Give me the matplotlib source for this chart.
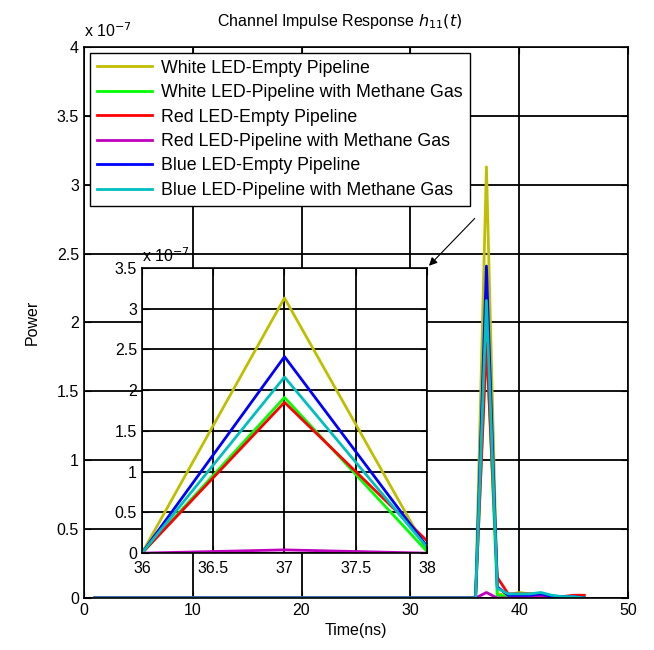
import numpy as np
import matplotlib.pyplot as plt

plt.rcParams['font.family'] = ['Liberation Sans', 'DejaVu Sans']

# time axis (ns) and received power (units of 1e-7)
t = np.arange(1, 47)
labels = ['White LED-Empty Pipeline',
          'White LED-Pipeline with Methane Gas',
          'Red LED-Empty Pipeline',
          'Red LED-Pipeline with Methane Gas',
          'Blue LED-Empty Pipeline',
          'Blue LED-Pipeline with Methane Gas']
colors = ['#BFBF00', '#00FF00', '#FF0000', '#BF00BF', '#0000FF', '#00BFBF']

# values from t=36 onward (before that all zero)
tail_white_empty = [0, 3.13, 0.03, 0.02, 0.04, 0.03, 0.03, 0.01, 0.01, 0.01, 0.0]
tail_white_gas = [0, 1.91, 0.02, 0.01, 0.02, 0.02, 0.02, 0.01, 0.01, 0.0, 0.0]
tail_red_empty = [0, 1.85, 0.15, 0.03, 0.03, 0.03, 0.02, 0.01, 0.01, 0.02, 0.02]
tail_red_gas = [0, 0.04, 0.0, 0.0, 0.01, 0.01, 0.01, 0.0, 0.0, 0.0, 0.0]
tail_blue_empty = [0, 2.41, 0.08, 0.02, 0.02, 0.02, 0.03, 0.01, 0.01, 0.01, 0.0]
tail_blue_gas = [0, 2.16, 0.07, 0.03, 0.03, 0.03, 0.04, 0.02, 0.01, 0.01, 0.0]
tails = [tail_white_empty, tail_white_gas, tail_red_empty,
         tail_red_gas, tail_blue_empty, tail_blue_gas]

series = []
for tail in tails:
    p = np.zeros(len(t))
    p[35:35 + len(tail)] = tail
    series.append(p)

fig = plt.figure(figsize=(6.54, 6.5), dpi=100)
ax = fig.add_axes([0.1284, 0.08, 0.8316, 0.8477])

for p, c, lab in zip(series, colors, labels):
    ax.plot(t, p, color=c, lw=2, label=lab)

ax.set_xlim(0, 50)
ax.set_ylim(0, 4)
ax.set_xticks(np.arange(0, 51, 10))
ax.set_yticks(np.arange(0, 4.01, 0.5))
ax.set_yticklabels(['0', '0.5', '1', '1.5', '2', '2.5', '3', '3.5', '4'])
ax.tick_params(direction='in', labelsize=11.5, length=5, top=True, right=True)
ax.grid(True, color='black', lw=1.3, ls='-')
for s in ax.spines.values():
    s.set_linewidth(1.2)
ax.set_xlabel('Time(ns)', fontsize=11.5, labelpad=4)
ax.set_ylabel('Power', fontsize=11.5, labelpad=12)
ax.set_title('Channel Impulse Response $h_{11}(t)$', fontsize=11.5, pad=15,
             x=0.47)
ax.text(0.0, 1.012, r'x 10$^{-7}$', transform=ax.transAxes, fontsize=11.5,
        ha='left', va='bottom')

leg = ax.legend(loc='upper left', fontsize=12.8, fancybox=False, framealpha=1,
                edgecolor='black', handlelength=3.1, borderpad=0.4,
                labelspacing=0.42, handletextpad=0.5, borderaxespad=0,
                bbox_to_anchor=(0.011, 0.99))
leg.get_frame().set_linewidth(1.0)

# zoomed inset around the peak
ins = fig.add_axes([0.217, 0.149, 0.436, 0.439])
for p, c in zip(series, colors):
    ins.plot(t, p, color=c, lw=2)
ins.set_xlim(36, 38)
ins.set_ylim(0, 3.5)
ins.set_xticks([36, 36.5, 37, 37.5, 38])
ins.set_xticklabels(['36', '36.5', '37', '37.5', '38'])
ins.set_yticks(np.arange(0, 3.51, 0.5))
ins.set_yticklabels(['0', '0.5', '1', '1.5', '2', '2.5', '3', '3.5'])
ins.tick_params(direction='in', labelsize=11.5, length=5, top=True, right=True)
ins.tick_params(axis='x', pad=6)
ins.grid(True, color='black', lw=1.3, ls='-')
for s in ins.spines.values():
    s.set_linewidth(1.2)
ins.text(0.0, 1.01, r'x 10$^{-7}$', transform=ins.transAxes, fontsize=11.5,
         ha='left', va='bottom')

ax.annotate('', xy=(1.0, 1.0), xycoords=ins.transAxes,
            xytext=(36.1, 2.77), textcoords='data',
            arrowprops=dict(arrowstyle='-|>', color='black', lw=0.8,
                            mutation_scale=12))

fig.savefig('out.png', dpi=100)
